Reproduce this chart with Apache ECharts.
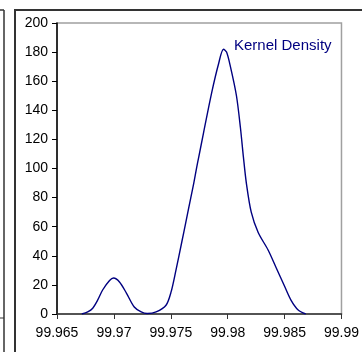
<!DOCTYPE html>
<html>
<head>
<meta charset="utf-8">
<script src="https://cdn.jsdelivr.net/npm/echarts@6/dist/echarts.min.js"></script>
<style>
  html, body { margin: 0; padding: 0; background: #fff; }
  #chart { width: 362px; height: 352px; }
</style>
</head>
<body>
<div id="chart"></div>
<script>
// Kernel density estimate: sample positions and density values
const xValues = [
  99.96718, 99.9677, 99.96814, 99.96857, 99.96901, 99.96962, 99.96997,
  99.97049, 99.9711, 99.97179, 99.9724, 99.97293, 99.97371, 99.97458,
  99.97502, 99.97545, 99.97598, 99.97632, 99.97676, 99.97702, 99.97728,
  99.97746, 99.97789, 99.97859, 99.9792, 99.97963, 99.9799, 99.98024,
  99.98077, 99.98112, 99.98138, 99.98164, 99.98207, 99.98268, 99.98355,
  99.98425, 99.98503, 99.98556, 99.98617, 99.98686
];
const densityValues = [
  0, 1.5, 4, 9.5, 16.5, 23, 24.7,
  22, 14.4, 4.8, 1.4, 0.3, 1.4, 6,
  15, 30, 50, 63, 80, 90, 101,
  108, 125, 152, 172, 182, 180, 170,
  150, 128, 108, 90, 70, 56, 44,
  32, 18.5, 9.6, 3, 0
];
const xTicks = ['99.965', '99.97', '99.975', '99.98', '99.985', '99.99'];
const seriesName = 'Kernel Density';

const chart = echarts.init(document.getElementById('chart'), null, { renderer: 'canvas' });
const font = 'Liberation Sans, Arial, sans-serif';

chart.setOption({
  animation: false,
  backgroundColor: '#ffffff',
  grid: {
    left: 57, right: 18, top: 23, bottom: 38,
    show: true, borderColor: '#a0a0a0', borderWidth: 1.5, backgroundColor: 'transparent'
  },
  xAxis: {
    type: 'value',
    min: 99.965, max: 99.99, interval: 0.005,
    axisLine: { show: true, onZero: false, lineStyle: { color: '#333', width: 1.5 } },
    axisTick: { show: true, length: 5, lineStyle: { color: '#333' } },
    splitLine: { show: false },
    axisLabel: {
      color: '#000', fontFamily: font, fontSize: 14, margin: 12,
      formatter: function (v) {
        const s = String(+v.toFixed(3));
        return xTicks.indexOf(s) >= 0 ? s : '';
      }
    }
  },
  yAxis: {
    type: 'value',
    min: 0, max: 200, interval: 20,
    axisLine: { show: true, lineStyle: { color: '#000', width: 1.5 } },
    axisTick: { show: true, length: 5, lineStyle: { color: '#000' } },
    splitLine: { show: false },
    axisLabel: { color: '#000', fontFamily: font, fontSize: 14, margin: 9 }
  },
  series: [{
    name: seriesName,
    type: 'line',
    data: xValues.map((x, i) => [x, densityValues[i]]),
    smooth: 0.3,
    showSymbol: false,
    lineStyle: { color: '#000080', width: 1.4 }
  }],
  graphic: [
    { type: 'text', left: 234, top: 38,
      style: { text: seriesName, fill: '#000080', font: '15px ' + font } },
    // surrounding panel frame
    { type: 'line', shape: { x1: 15, y1: 10, x2: 15, y2: 352 }, style: { stroke: '#333', lineWidth: 2 } },
    { type: 'line', shape: { x1: 14, y1: 10, x2: 362, y2: 10 }, style: { stroke: '#333', lineWidth: 2 } },
    { type: 'line', shape: { x1: 4, y1: 10, x2: 4, y2: 352 }, style: { stroke: '#333', lineWidth: 1.5 } },
    { type: 'line', shape: { x1: 0, y1: 10, x2: 4, y2: 10 }, style: { stroke: '#333', lineWidth: 1.5 } },
    { type: 'line', shape: { x1: 0, y1: 318, x2: 4, y2: 318 }, style: { stroke: '#333', lineWidth: 1 } }
  ]
});
</script>
</body>
</html>
